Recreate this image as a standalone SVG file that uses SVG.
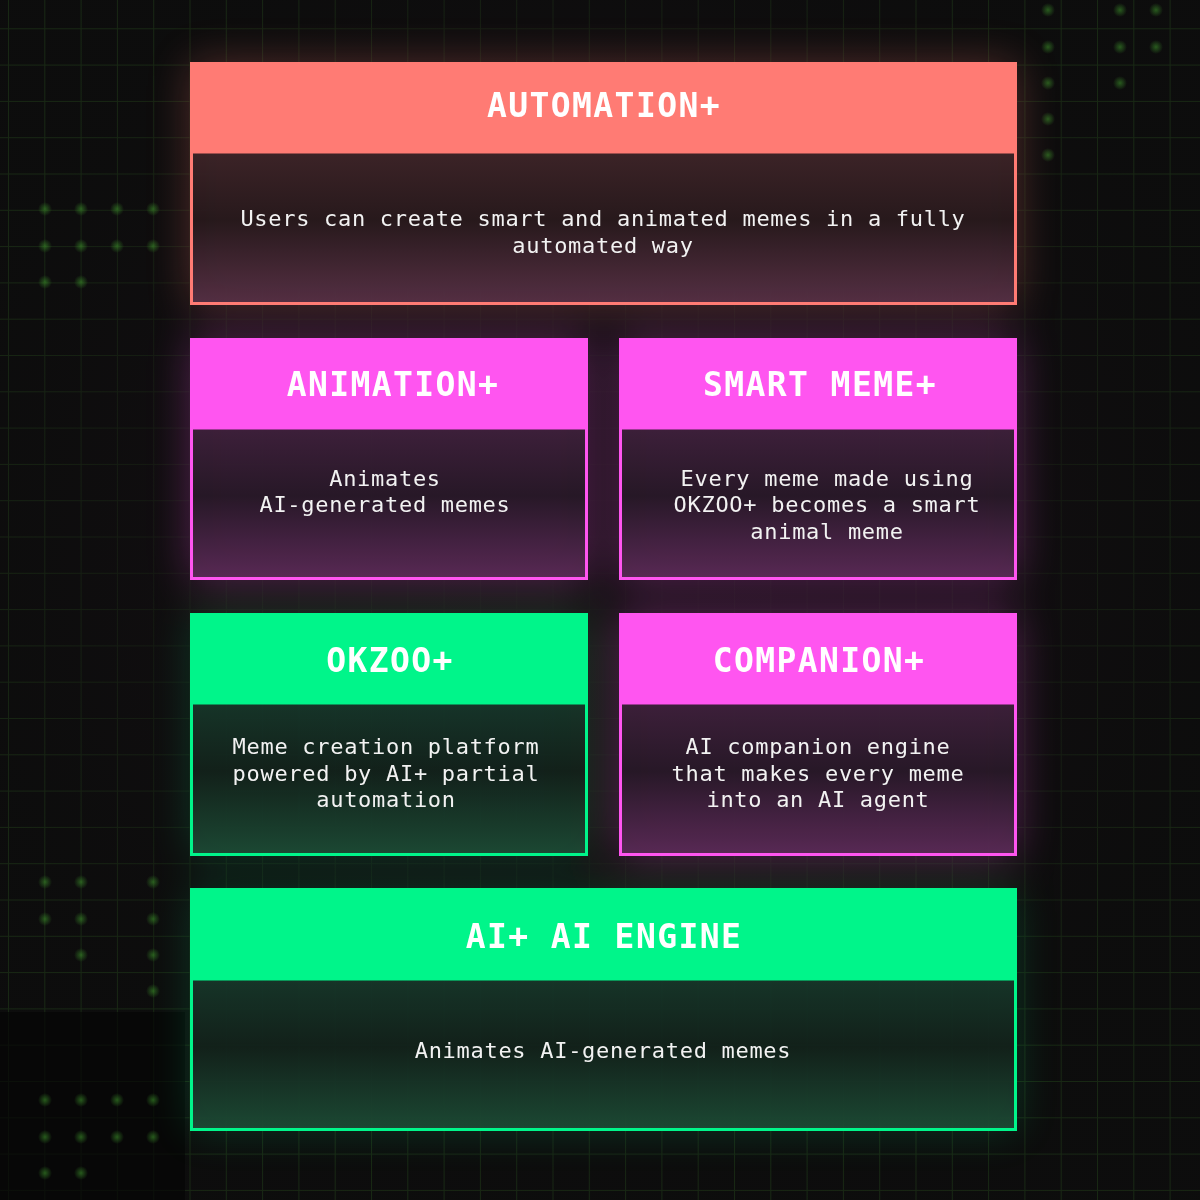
<svg xmlns="http://www.w3.org/2000/svg" width="1200" height="1200" viewBox="0 0 1200 1200">
<style>
.title{font-family:"DejaVu Sans Mono","Liberation Mono",monospace;font-weight:bold;font-size:33px;fill:#ffffff;text-anchor:middle;letter-spacing:1.4px}
.body{font-family:"DejaVu Sans Mono","Liberation Mono",monospace;font-size:22px;fill:#f2f2f2;text-anchor:middle;letter-spacing:0.7px}
.hs{stroke:none}
</style>
<defs>
<pattern id="grid" x="8" y="-8" width="36.3" height="36.3" patternUnits="userSpaceOnUse">
<path d="M0 0.5 H36.3 M0.5 0 V36.3" fill="none" stroke="#2f5e22" stroke-width="1"/>
</pattern>
<radialGradient id="centerFade" cx="0.5" cy="0.45" r="0.55">
<stop offset="0" stop-color="#140f13" stop-opacity="0.95"/>
<stop offset="0.6" stop-color="#120e11" stop-opacity="0.75"/>
<stop offset="1" stop-color="#0c0c0c" stop-opacity="0.25"/>
</radialGradient>
<radialGradient id="dot" cx="0.5" cy="0.5" r="0.5">
<stop offset="0" stop-color="#3f9a2c" stop-opacity="0.55"/>
<stop offset="1" stop-color="#3f9a2c" stop-opacity="0"/>
</radialGradient>
<linearGradient id="bodySalmon" x1="0" y1="0" x2="0" y2="1">
<stop offset="0" stop-color="#3b2327"/>
<stop offset="0.45" stop-color="#25181b"/>
<stop offset="1" stop-color="#563045"/>
</linearGradient>
<linearGradient id="bodyPink" x1="0" y1="0" x2="0" y2="1">
<stop offset="0" stop-color="#3c2039"/>
<stop offset="0.45" stop-color="#251825"/>
<stop offset="1" stop-color="#5a2a56"/>
</linearGradient>
<linearGradient id="bodyGreen" x1="0" y1="0" x2="0" y2="1">
<stop offset="0" stop-color="#173529"/>
<stop offset="0.45" stop-color="#13201a"/>
<stop offset="1" stop-color="#1d4a35"/>
</linearGradient>
<filter id="glow" x="-20%" y="-20%" width="140%" height="140%">
<feGaussianBlur stdDeviation="22"/>
</filter>
</defs>

<g id="background">
<rect x="0" y="0" width="1200" height="1200" fill="#0d0d0d"/>
<rect x="0" y="0" width="1200" height="1200" fill="url(#grid)" opacity="0.45"/>
<rect x="0" y="0" width="1200" height="1200" fill="url(#centerFade)"/>
<rect x="0" y="1012" width="185" height="188" fill="#050505" opacity="0.7"/>
<g id="dots">
<circle cx="45" cy="209" r="7" fill="url(#dot)"/>
<circle cx="81" cy="209" r="7" fill="url(#dot)"/>
<circle cx="117" cy="209" r="7" fill="url(#dot)"/>
<circle cx="153" cy="209" r="7" fill="url(#dot)"/>
<circle cx="45" cy="246" r="7" fill="url(#dot)"/>
<circle cx="81" cy="246" r="7" fill="url(#dot)"/>
<circle cx="117" cy="246" r="7" fill="url(#dot)"/>
<circle cx="153" cy="246" r="7" fill="url(#dot)"/>
<circle cx="45" cy="282" r="7" fill="url(#dot)"/>
<circle cx="81" cy="282" r="7" fill="url(#dot)"/>
<circle cx="1048" cy="10" r="7" fill="url(#dot)"/>
<circle cx="1120" cy="10" r="7" fill="url(#dot)"/>
<circle cx="1156" cy="10" r="7" fill="url(#dot)"/>
<circle cx="1048" cy="47" r="7" fill="url(#dot)"/>
<circle cx="1120" cy="47" r="7" fill="url(#dot)"/>
<circle cx="1156" cy="47" r="7" fill="url(#dot)"/>
<circle cx="1048" cy="83" r="7" fill="url(#dot)"/>
<circle cx="1120" cy="83" r="7" fill="url(#dot)"/>
<circle cx="1048" cy="119" r="7" fill="url(#dot)"/>
<circle cx="1048" cy="155" r="7" fill="url(#dot)"/>
<circle cx="45" cy="882" r="7" fill="url(#dot)"/>
<circle cx="81" cy="882" r="7" fill="url(#dot)"/>
<circle cx="153" cy="882" r="7" fill="url(#dot)"/>
<circle cx="45" cy="919" r="7" fill="url(#dot)"/>
<circle cx="81" cy="919" r="7" fill="url(#dot)"/>
<circle cx="153" cy="919" r="7" fill="url(#dot)"/>
<circle cx="81" cy="955" r="7" fill="url(#dot)"/>
<circle cx="153" cy="955" r="7" fill="url(#dot)"/>
<circle cx="153" cy="991" r="7" fill="url(#dot)"/>
<circle cx="45" cy="1100" r="7" fill="url(#dot)"/>
<circle cx="81" cy="1100" r="7" fill="url(#dot)"/>
<circle cx="117" cy="1100" r="7" fill="url(#dot)"/>
<circle cx="153" cy="1100" r="7" fill="url(#dot)"/>
<circle cx="45" cy="1137" r="7" fill="url(#dot)"/>
<circle cx="81" cy="1137" r="7" fill="url(#dot)"/>
<circle cx="117" cy="1137" r="7" fill="url(#dot)"/>
<circle cx="153" cy="1137" r="7" fill="url(#dot)"/>
<circle cx="45" cy="1173" r="7" fill="url(#dot)"/>
<circle cx="81" cy="1173" r="7" fill="url(#dot)"/>
</g>
<g id="glows" filter="url(#glow)" opacity="0.28">
<rect x="190" y="62" width="827" height="243" fill="#ff7b74"/>
<rect x="190" y="338" width="398" height="242" fill="#ff55f0"/>
<rect x="619" y="338" width="398" height="242" fill="#ff55f0"/>
<rect x="190" y="613" width="398" height="243" fill="#00f58a" opacity="0.6"/>
<rect x="619" y="613" width="398" height="243" fill="#ff55f0"/>
<rect x="190" y="888" width="827" height="243" fill="#00f58a" opacity="0.6"/>
</g>
</g>

<g id="node-automation">
<rect x="191.5" y="152" width="824" height="151.5" fill="url(#bodySalmon)" fill-opacity="0.95" stroke="#ff7b74" stroke-width="3"/>
<rect class="hs" x="190" y="62" width="827" height="91" fill="#ff7b74"/>
<text class="title" x="604" y="117">AUTOMATION+</text>
<text class="body" x="603" y="226">Users can create smart and animated memes in a fully</text>
<text class="body" x="603" y="253">automated way</text>
</g>

<g id="node-animation">
<rect x="191.5" y="428" width="395" height="150.5" fill="url(#bodyPink)" fill-opacity="0.95" stroke="#ff55f0" stroke-width="3"/>
<rect class="hs" x="190" y="338" width="398" height="91" fill="#ff55f0"/>
<text class="title" x="393" y="396">ANIMATION+</text>
<text class="body" x="385" y="486">Animates</text>
<text class="body" x="385" y="512">AI-generated memes</text>
</g>

<g id="node-smart-meme">
<rect x="620.5" y="428" width="395" height="150.5" fill="url(#bodyPink)" fill-opacity="0.95" stroke="#ff55f0" stroke-width="3"/>
<rect class="hs" x="619" y="338" width="398" height="91" fill="#ff55f0"/>
<text class="title" x="820" y="396">SMART MEME+</text>
<text class="body" x="827" y="486">Every meme made using</text>
<text class="body" x="827" y="512">OKZOO+ becomes a smart</text>
<text class="body" x="827" y="539">animal meme</text>
</g>

<g id="node-okzoo">
<rect x="191.5" y="703" width="395" height="151.5" fill="url(#bodyGreen)" fill-opacity="0.95" stroke="#00f58a" stroke-width="3"/>
<rect class="hs" x="190" y="613" width="398" height="91" fill="#00f58a"/>
<text class="title" x="390" y="672">OKZOO+</text>
<text class="body" x="386" y="754">Meme creation platform</text>
<text class="body" x="386" y="781">powered by AI+ partial</text>
<text class="body" x="386" y="807">automation</text>
</g>

<g id="node-companion">
<rect x="620.5" y="703" width="395" height="151.5" fill="url(#bodyPink)" fill-opacity="0.95" stroke="#ff55f0" stroke-width="3"/>
<rect class="hs" x="619" y="613" width="398" height="91" fill="#ff55f0"/>
<text class="title" x="819" y="672">COMPANION+</text>
<text class="body" x="818" y="754">AI companion engine</text>
<text class="body" x="818" y="781">that makes every meme</text>
<text class="body" x="818" y="807">into an AI agent</text>
</g>

<g id="node-ai-engine">
<rect x="191.5" y="979" width="824" height="150.5" fill="url(#bodyGreen)" fill-opacity="0.95" stroke="#00f58a" stroke-width="3"/>
<rect class="hs" x="190" y="888" width="827" height="92" fill="#00f58a"/>
<text class="title" x="604" y="948">AI+ AI ENGINE</text>
<text class="body" x="603" y="1058">Animates AI-generated memes</text>
</g>

<g id="connectors"></g>
</svg>
